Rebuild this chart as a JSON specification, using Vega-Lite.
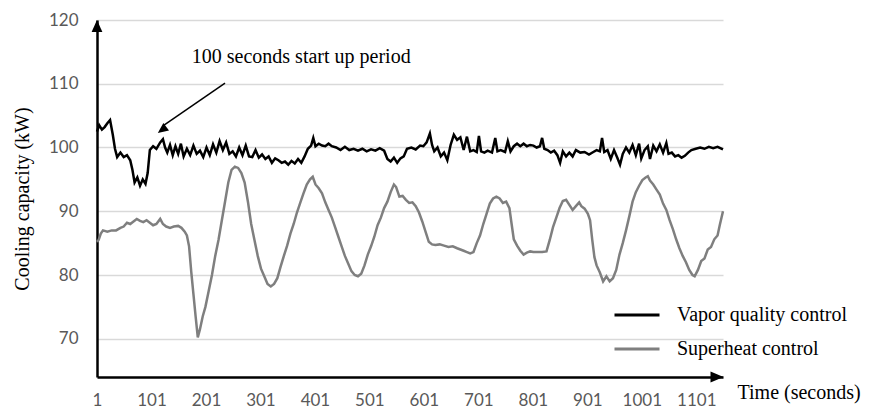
{
  "$schema": "https://vega.github.io/schema/vega-lite/v6.json",
  "width": 626,
  "height": 357,
  "autosize": {"type": "none"},
  "padding": {"left": 97, "top": 20, "right": 149, "bottom": 33},
  "background": "white",
  "config": {"view": {"stroke": null}},
  "datasets": {
    "vq": [
      {"t":1,"v":102.5},{"t":5,"v":103.5},{"t":10,"v":102.8},{"t":15,"v":103.2},{"t":20,"v":103.8},{"t":25,"v":104.3},{"t":30,"v":102},{"t":34,"v":99.8},{"t":38,"v":98.5},{"t":44,"v":99.2},{"t":50,"v":98.5},{"t":56,"v":98.8},{"t":62,"v":98},{"t":66,"v":96.5},{"t":70,"v":94.5},{"t":75,"v":95.3},{"t":80,"v":94},{"t":85,"v":95},{"t":90,"v":94.3},{"t":94,"v":96},{"t":98,"v":99.6},{"t":104,"v":100.2},{"t":110,"v":99.8},{"t":117,"v":100.8},{"t":122,"v":101.3},{"t":126,"v":100},{"t":130,"v":99.2},{"t":135,"v":100.4},{"t":140,"v":98.8},{"t":145,"v":100.2},{"t":150,"v":99},{"t":155,"v":100.6},{"t":160,"v":98.6},{"t":166,"v":99.8},{"t":172,"v":98.8},{"t":178,"v":100.3},{"t":184,"v":99},{"t":190,"v":99.5},{"t":196,"v":98.5},{"t":202,"v":100},{"t":208,"v":98.8},{"t":214,"v":100.5},{"t":220,"v":99.2},{"t":226,"v":101},{"t":232,"v":99.6},{"t":238,"v":100.8},{"t":244,"v":99},{"t":250,"v":99.4},{"t":256,"v":98.6},{"t":262,"v":100},{"t":268,"v":98.8},{"t":274,"v":100.3},{"t":280,"v":98.6},{"t":286,"v":98.5},{"t":292,"v":99.6},{"t":298,"v":98.4},{"t":304,"v":98.9},{"t":310,"v":98.2},{"t":316,"v":98.6},{"t":322,"v":97.6},{"t":328,"v":98.3},{"t":334,"v":98},{"t":340,"v":97.6},{"t":346,"v":97.8},{"t":352,"v":97.3},{"t":358,"v":97.9},{"t":364,"v":97.5},{"t":370,"v":98.2},{"t":376,"v":97.6},{"t":382,"v":98.6},{"t":388,"v":99.8},{"t":394,"v":100.3},{"t":398,"v":101.5},{"t":402,"v":100.2},{"t":408,"v":100.6},{"t":414,"v":100.3},{"t":420,"v":100.2},{"t":426,"v":100.6},{"t":432,"v":100.2},{"t":440,"v":100},{"t":448,"v":99.6},{"t":456,"v":100.1},{"t":464,"v":99.6},{"t":472,"v":99.8},{"t":480,"v":99.5},{"t":488,"v":99.8},{"t":496,"v":99.4},{"t":504,"v":99.7},{"t":512,"v":99.5},{"t":520,"v":99.9},{"t":528,"v":99.5},{"t":534,"v":98.2},{"t":540,"v":97.8},{"t":546,"v":98.4},{"t":552,"v":97.6},{"t":558,"v":98.3},{"t":564,"v":98.6},{"t":570,"v":99.8},{"t":578,"v":100},{"t":586,"v":99.7},{"t":594,"v":100.3},{"t":600,"v":100.2},{"t":606,"v":100.8},{"t":612,"v":102.2},{"t":616,"v":100.4},{"t":620,"v":99.4},{"t":626,"v":100},{"t":632,"v":98.6},{"t":638,"v":99.2},{"t":644,"v":98},{"t":650,"v":100.4},{"t":656,"v":102},{"t":662,"v":101.2},{"t":668,"v":101.6},{"t":674,"v":99.6},{"t":680,"v":101.7},{"t":686,"v":99.4},{"t":692,"v":99.6},{"t":698,"v":99.3},{"t":702,"v":101.8},{"t":706,"v":99.4},{"t":712,"v":99.2},{"t":718,"v":99.5},{"t":726,"v":99.2},{"t":732,"v":101.5},{"t":736,"v":99.4},{"t":742,"v":99.6},{"t":750,"v":99.3},{"t":755,"v":101},{"t":760,"v":99.4},{"t":766,"v":100.2},{"t":772,"v":100.6},{"t":778,"v":100.2},{"t":784,"v":100.6},{"t":790,"v":100.2},{"t":796,"v":100.4},{"t":802,"v":100.3},{"t":808,"v":100},{"t":814,"v":100.2},{"t":818,"v":101.5},{"t":822,"v":99.8},{"t":828,"v":99.6},{"t":834,"v":99.2},{"t":840,"v":99.5},{"t":846,"v":98.8},{"t":851,"v":97.6},{"t":856,"v":99.4},{"t":862,"v":98.6},{"t":868,"v":99.2},{"t":874,"v":98.6},{"t":880,"v":99.6},{"t":888,"v":99.2},{"t":896,"v":99.3},{"t":904,"v":98.9},{"t":912,"v":99.3},{"t":918,"v":99.6},{"t":924,"v":99.4},{"t":928,"v":101.5},{"t":932,"v":99.3},{"t":938,"v":99.6},{"t":944,"v":98.2},{"t":950,"v":99.6},{"t":956,"v":98.4},{"t":961,"v":97.3},{"t":966,"v":99},{"t":972,"v":100},{"t":978,"v":99.2},{"t":984,"v":100.4},{"t":990,"v":98.8},{"t":996,"v":100.6},{"t":1000,"v":98.3},{"t":1006,"v":99.6},{"t":1012,"v":100.2},{"t":1016,"v":98.2},{"t":1022,"v":100.3},{"t":1028,"v":99.4},{"t":1034,"v":100.5},{"t":1040,"v":99.2},{"t":1046,"v":100.7},{"t":1050,"v":99},{"t":1056,"v":99.2},{"t":1062,"v":98.6},{"t":1068,"v":98.8},{"t":1074,"v":98.4},{"t":1080,"v":98.7},{"t":1086,"v":99.2},{"t":1092,"v":99.6},{"t":1100,"v":99.8},{"t":1108,"v":100},{"t":1116,"v":99.8},{"t":1124,"v":100.1},{"t":1132,"v":99.9},{"t":1140,"v":100.1},{"t":1150,"v":99.7}
    ],
    "sh": [
      {"t":1,"v":85.2},{"t":4,"v":85.5},{"t":8,"v":86.5},{"t":12,"v":87},{"t":20,"v":86.8},{"t":28,"v":87},{"t":36,"v":87},{"t":44,"v":87.4},{"t":50,"v":87.6},{"t":56,"v":88.2},{"t":62,"v":88},{"t":68,"v":88.4},{"t":74,"v":88.8},{"t":80,"v":88.5},{"t":86,"v":88.3},{"t":92,"v":88.6},{"t":98,"v":88.2},{"t":104,"v":87.8},{"t":110,"v":88},{"t":117,"v":88.8},{"t":122,"v":88},{"t":128,"v":87.6},{"t":135,"v":87.4},{"t":142,"v":87.6},{"t":150,"v":87.7},{"t":156,"v":87.4},{"t":162,"v":86.8},{"t":166,"v":86.2},{"t":170,"v":84.5},{"t":174,"v":80.5},{"t":178,"v":77},{"t":182,"v":73.5},{"t":186,"v":70.2},{"t":190,"v":71.5},{"t":195,"v":73.5},{"t":200,"v":75},{"t":206,"v":77.5},{"t":212,"v":80},{"t":218,"v":83},{"t":224,"v":85.5},{"t":230,"v":88.5},{"t":236,"v":91.5},{"t":242,"v":94.5},{"t":248,"v":96.5},{"t":254,"v":97},{"t":260,"v":96.8},{"t":266,"v":96},{"t":272,"v":94.5},{"t":278,"v":91.5},{"t":284,"v":88},{"t":290,"v":85.5},{"t":296,"v":83},{"t":302,"v":81},{"t":308,"v":79.8},{"t":314,"v":78.6},{"t":320,"v":78.2},{"t":326,"v":78.6},{"t":332,"v":79.5},{"t":338,"v":81.3},{"t":344,"v":83},{"t":350,"v":84.6},{"t":356,"v":86.5},{"t":362,"v":88},{"t":368,"v":89.8},{"t":374,"v":91.3},{"t":380,"v":92.8},{"t":386,"v":94.2},{"t":392,"v":95},{"t":397,"v":95.4},{"t":402,"v":94.2},{"t":408,"v":93.6},{"t":414,"v":92.8},{"t":420,"v":91.4},{"t":426,"v":90.2},{"t":432,"v":89},{"t":438,"v":87.5},{"t":444,"v":86},{"t":450,"v":84.5},{"t":456,"v":83},{"t":462,"v":81.8},{"t":468,"v":80.6},{"t":474,"v":80},{"t":480,"v":79.8},{"t":486,"v":80.2},{"t":492,"v":81.5},{"t":498,"v":83.2},{"t":504,"v":84.5},{"t":510,"v":86},{"t":516,"v":87.8},{"t":522,"v":89},{"t":528,"v":90.5},{"t":534,"v":91.5},{"t":540,"v":93},{"t":546,"v":94.2},{"t":550,"v":93.8},{"t":556,"v":92.3},{"t":562,"v":92.4},{"t":568,"v":91.8},{"t":574,"v":91.3},{"t":580,"v":91.4},{"t":586,"v":90.8},{"t":592,"v":89.8},{"t":598,"v":88.4},{"t":604,"v":86.8},{"t":610,"v":85.2},{"t":616,"v":84.8},{"t":622,"v":84.7},{"t":630,"v":84.8},{"t":638,"v":84.6},{"t":646,"v":84.4},{"t":654,"v":84.5},{"t":662,"v":84.2},{"t":668,"v":84},{"t":674,"v":83.8},{"t":680,"v":83.6},{"t":686,"v":83.4},{"t":692,"v":83.6},{"t":698,"v":85},{"t":704,"v":86.2},{"t":710,"v":88},{"t":716,"v":89.6},{"t":722,"v":91.2},{"t":728,"v":92},{"t":734,"v":92.3},{"t":740,"v":92},{"t":746,"v":91.3},{"t":752,"v":91.5},{"t":758,"v":90.5},{"t":762,"v":88},{"t":766,"v":85.6},{"t":772,"v":84.6},{"t":778,"v":83.8},{"t":784,"v":83.2},{"t":790,"v":83.5},{"t":796,"v":83.7},{"t":802,"v":83.6},{"t":810,"v":83.6},{"t":818,"v":83.6},{"t":826,"v":83.7},{"t":832,"v":85.5},{"t":838,"v":87.5},{"t":844,"v":89},{"t":850,"v":90.5},{"t":856,"v":91.6},{"t":862,"v":91.8},{"t":868,"v":91},{"t":874,"v":90.2},{"t":880,"v":90.8},{"t":886,"v":91.4},{"t":890,"v":90.8},{"t":896,"v":90.4},{"t":902,"v":89.6},{"t":906,"v":88.6},{"t":910,"v":85.5},{"t":914,"v":82.8},{"t":918,"v":81.5},{"t":924,"v":80.4},{"t":930,"v":79},{"t":936,"v":79.8},{"t":942,"v":79},{"t":948,"v":79.5},{"t":954,"v":80.8},{"t":960,"v":83.2},{"t":966,"v":85},{"t":972,"v":87},{"t":978,"v":89.2},{"t":984,"v":91.5},{"t":990,"v":93},{"t":996,"v":94},{"t":1002,"v":94.9},{"t":1008,"v":95.3},{"t":1012,"v":95.5},{"t":1016,"v":94.8},{"t":1022,"v":94.2},{"t":1028,"v":93.4},{"t":1034,"v":92.6},{"t":1040,"v":91.2},{"t":1046,"v":90.2},{"t":1052,"v":88.6},{"t":1058,"v":87.2},{"t":1064,"v":85.6},{"t":1070,"v":84.2},{"t":1076,"v":83},{"t":1082,"v":82},{"t":1088,"v":80.8},{"t":1094,"v":80},{"t":1098,"v":79.8},{"t":1104,"v":80.8},{"t":1110,"v":82.2},{"t":1116,"v":82.6},{"t":1122,"v":84},{"t":1128,"v":84.4},{"t":1134,"v":85.6},{"t":1140,"v":86.2},{"t":1144,"v":87.8},{"t":1150,"v":90}
    ]
  },
  "encoding": {
    "x": {
      "type": "quantitative",
      "scale": {"domain": [1, 1150], "nice": false, "zero": false},
      "axis": {
        "values": [1, 101, 201, 301, 401, 501, 601, 701, 801, 901, 1001, 1101],
        "format": "d",
        "grid": false, "ticks": false,
        "domainColor": "#000000", "domainWidth": 2.5,
        "labelFont": "Lato", "labelFontSize": 17, "labelColor": "#595959", "labelPadding": 15,
        "labelFlush": false, "labelOverlap": false,
        "title": "Time (seconds)",
        "titleFont": "Liberation Serif", "titleFontSize": 20, "titleFontWeight": "normal", "titleColor": "#000000",
        "titleX": 640, "titleY": 21, "titleAlign": "left", "titleBaseline": "alphabetic", "titleAnchor": null
      }
    },
    "y": {
      "type": "quantitative",
      "scale": {"domain": [64, 120], "nice": false, "zero": false},
      "axis": {
        "values": [70, 80, 90, 100, 110, 120],
        "grid": true, "gridColor": "#d9d9d9", "gridWidth": 1.5,
        "ticks": false,
        "domainColor": "#000000", "domainWidth": 2.5,
        "labelFont": "Lato", "labelFontSize": 17, "labelColor": "#595959", "labelPadding": 19,
        "title": "Cooling capacity (kW)",
        "titleFont": "Liberation Serif", "titleFontSize": 20, "titleFontWeight": "normal", "titleColor": "#000000",
        "titlePadding": 16
      }
    }
  },
  "layer": [
    {
      "data": {"name": "sh"},
      "mark": {"type": "line", "strokeWidth": 2.5},
      "encoding": {
        "x": {"field": "t", "type": "quantitative"},
        "y": {"field": "v", "type": "quantitative"},
        "color": {
          "datum": "Superheat control",
          "type": "nominal",
          "scale": {"domain": ["Vapor quality control", "Superheat control"], "range": ["#000000", "#7f7f7f"]},
          "legend": {
            "title": null, "orient": "none", "legendX": 516, "legendY": 271, "padding": 0,
            "symbolType": "stroke", "symbolSize": 2025, "symbolStrokeWidth": 3,
            "labelFont": "Liberation Serif", "labelFontSize": 20, "labelColor": "#000000", "labelOffset": 16,
            "labelLimit": 400, "rowPadding": 0
          }
        }
      }
    },
    {
      "data": {"name": "vq"},
      "mark": {"type": "line", "strokeWidth": 2.5},
      "encoding": {
        "x": {"field": "t", "type": "quantitative"},
        "y": {"field": "v", "type": "quantitative"},
        "color": {"datum": "Vapor quality control", "type": "nominal"}
      }
    },
    {
      "data": {"values": [{}]},
      "mark": {"type": "point", "shape": "M-1,-0.85L1,0L-1,0.85Z", "filled": true, "color": "#000000", "opacity": 1, "size": 169},
      "encoding": {
        "x": {"datum": 1139, "type": "quantitative"},
        "y": {"datum": 64, "type": "quantitative"}
      }
    },
    {
      "data": {"values": [{}]},
      "mark": {"type": "point", "shape": "M-0.9,1L0,-1L0.9,1Z", "filled": true, "color": "#000000", "opacity": 1, "size": 144},
      "encoding": {
        "x": {"datum": 1, "type": "quantitative"},
        "y": {"datum": 119.06, "type": "quantitative"}
      }
    },
    {
      "data": {"values": [{}]},
      "mark": {"type": "rule", "color": "#000000", "strokeWidth": 1.5},
      "encoding": {
        "x": {"datum": 236, "type": "quantitative"},
        "y": {"datum": 110.1, "type": "quantitative"},
        "x2": {"datum": 124},
        "y2": {"datum": 103.5}
      }
    },
    {
      "data": {"values": [{}]},
      "mark": {"type": "point", "shape": "M-0.9,1L0,-1L0.9,1Z", "filled": true, "color": "#000000", "opacity": 1, "size": 110, "angle": 233},
      "encoding": {
        "x": {"datum": 120.3, "type": "quantitative"},
        "y": {"datum": 102.75, "type": "quantitative"}
      }
    },
    {
      "data": {"values": [{}]},
      "mark": {"type": "text", "text": "100 seconds start up period", "font": "Liberation Serif", "fontSize": 20, "color": "#000000", "align": "left", "baseline": "alphabetic"},
      "encoding": {
        "x": {"datum": 175, "type": "quantitative"},
        "y": {"datum": 113.25, "type": "quantitative"}
      }
    }
  ]
}
